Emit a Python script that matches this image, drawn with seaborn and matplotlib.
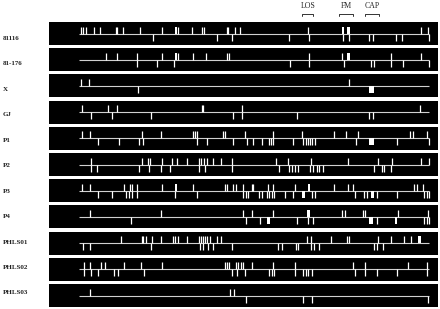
import matplotlib
matplotlib.use("Agg")
import matplotlib.pyplot as plt
import seaborn as sns
from matplotlib.patches import Rectangle

# strain names, top to bottom
strains = ["81116", "81-176", "X", "GJ", "P1", "P2", "P3", "P4",
           "PHLS01", "PHLS02", "PHLS03"]

# map length (positions along the map, 0 = left end of the line)
map_length = 350

# sites above the line / below the line; a tuple is a wide block (start, end)
up_81116 = [1.7, 4.3, 7, 15.3, 21, 36.7, 38.3, 44.3, 61, 82.7, (96, 98), 99.3, 112.7,
            123.3, 125.3, 147.7, 149.3, 156, 161, 229.3, (263, 265), (268, 271), 341.7, 349.3]
down_81116 = [74.3, 137.7, 153.3, 210, 230, 264.3, 270, 290, 293.7, 317, 323.3, 350]

up_81176 = [27, 37.7, 58.3, 83.3, (96, 98), 99.3, 113.7, 126.7, 147.7, 150.3, 230, 263.3,
            (267.7, 271), 312, 342.3]
down_81176 = [58.3, 77.7, 95.3, 211, 230, 265.3, 292, 294.5, 312, 323.5, 349.7]

up_x = [2, 10.3, 270]
down_x = [58.7, (290, 295)]

up_gj = [3.3, 29.3, 37.7, 122.7, 124.3, 162.7, 341]
down_gj = [11.7, 32.7, 71.7, 154.3, 163.3, 217.7, 290.3, 294.3]

up_p1 = [3.3, 11, 63.3, 82, 113.7, 116, 118.3, 143.7, 146, 166, 194.3, 222.7, 255, 267,
         279.3, 331, 334.3, 348.3]
down_p1 = [18.7, 40, 60, 64.3, 118.3, 127.7, 153.7, 167.7, 174.3, 183.3, 190.3, 192, 194.3,
           213.7, 224.3, 226.5, 228.7, 231, 233.3, 236, 277, (290.3, 295), 318.3, 350]

up_p2 = [11.7, 62.7, 68.7, 71, 82.7, 93.3, 98.3, 107.7, 120.3, 122.3, 125, 127.7, 134.3,
         141.7, 152.7, 197, 208.7, 231.7, 269.3, 299.3, 312.7, 342, 350]
down_p2 = [11.7, 18.3, 60.3, 70.3, 82, 91, 120.3, 126, 152.7, 200.3, 210.3, 212.7, 216,
           219.3, 231, 234.3, 237.7, 240.3, 243.7, 295.3, 302.7, 305, 312]

up_p3 = [2.7, 11, 45, 51, 52.7, 57.7, 82.7, (96, 98.3), 113.7, 146, 148.3, 154.3, 156.7,
         163.7, 172.7, 174.3, 189.3, 194.3, 216, (228.7, 231), 255.3, 268.7, 273.7, 335.3,
         337.7, 344.3]
down_p3 = [18.7, 32.7, 47, 50.3, 52.7, 57.7, 96, 117.7, 164.3, 166.7, 168.7, 180.3, 182.7,
           187.7, 190, 192.7, 195, 206, 214.3, (222.7, 226), 232.7, 236, 276, 285, 287.7,
           (291.7, 295), 297.7, 317.7, 345.3, 347.7, 350]

up_p4 = [11, 82, 163.7, 172.7, 194.3, (228.3, 231), 262.7, 266, 283.7, 286, 318.7, 349.3]
down_p4 = [52, 167, 181, (187.7, 191), 218.3, 229.3, 233.7, (290.3, 294.3), 297.7,
           (316, 317.7), 345.3, 347.7, 350]

up_phls01 = [41.7, 62.7, 64.3, 66.7, 73.3, 82, 93.7, 96, 99.3, 107.7, 120.3, 122.3, 124.3,
             126, 128, 131, 137.7, 141.7, 228.3, 231.7, 252, 267.7, 270.3, 298.7, 312, 325,
             332, (339.3, 341.7)]
down_phls01 = [3.7, 11, 71.7, 121, 124.3, 129.3, 134.3, 152.7, 199.3, 202.7, 217, 219.3,
               231.7, 235, 240.3, 295, 297.7, 303.7]

up_phls02 = [5.3, 11, 22, 26, 45, 62, 82.7, 146, 148.3, 150.3, 157, 159.3, 161.7, 164.3,
             173.3, 193.7, 216, 274.3, 286, 329.3, 347.7]
down_phls02 = [5.3, 11.7, 18.7, 35.3, 39.3, 65, 152.7, 158.3, 166, 190.3, 192.7, 195, 216,
               224.3, 227, 229.3, 232.7, 276, 286, 297.7, 317.7, 347.7]

up_phls03 = [11, 151, 155]
down_phls03 = [167, 223.7, 232.7, 349.3]

ups = [up_81116, up_81176, up_x, up_gj, up_p1, up_p2, up_p3, up_p4,
       up_phls01, up_phls02, up_phls03]
downs = [down_81116, down_81176, down_x, down_gj, down_p1, down_p2, down_p3, down_p4,
         down_phls01, down_phls02, down_phls03]

# marked loci on top
region_names = ["LOS", "FM", "CAP"]
region_starts = [223.3, 260, 286]
region_ends = [234.3, 274.3, 300.3]

sns.set_theme(style="white")
plt.rcParams["font.family"] = ["Liberation Serif", "DejaVu Serif"]

fig = plt.figure(figsize=(4.4, 3.09), dpi=100)
ax = fig.add_axes([0, 0, 1, 1])
ax.set_xlim(-79, 361)
ax.set_ylim(309, 0)
ax.axis("off")

tick_len = 7
line_col = "#d0d0d0"
tick_col = "white"

for i, name in enumerate(strains):
    yc = 33.5 + 26.2 * i
    ax.add_patch(Rectangle((-30, yc - 11.5), 389, 23, color="black", lw=0, zorder=1))
    ax.hlines(yc, 0, map_length, color=line_col, lw=0.8, zorder=2)
    for side, sites in ((-1, ups[i]), (1, downs[i])):
        thin = [s for s in sites if not isinstance(s, tuple)]
        wide = [s for s in sites if isinstance(s, tuple)]
        ax.vlines(thin, yc, yc + side * tick_len, color=tick_col, lw=0.9, zorder=3)
        for a, b in wide:
            ax.bar(a, side * tick_len, width=b - a, bottom=yc, align="edge",
                   color="white", lw=0, zorder=3)
    ax.text(-76, 38.4 + 25.46 * i, name, fontsize=5, fontweight="bold",
            ha="left", va="center", color="#222222")

for name, a, b in zip(region_names, region_starts, region_ends):
    ax.plot([a, a, b, b], [16.3, 13.7, 13.7, 16.3], color="#333333", lw=0.7)
    ax.text((a + b) / 2, 5.8, name, fontsize=5.6, ha="center", va="center",
            color="#222222")

fig.savefig("out.png", dpi=100, facecolor="white")
